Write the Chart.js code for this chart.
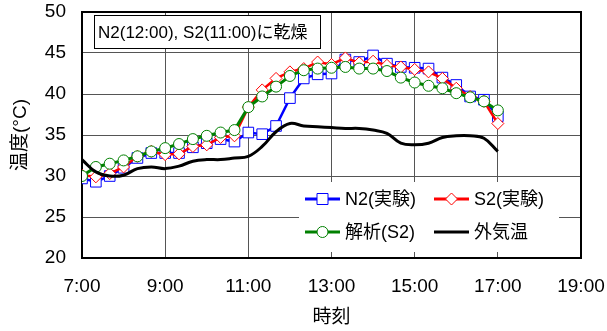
<!DOCTYPE html>
<html>
<head>
<meta charset="utf-8">
<script src="https://cdn.jsdelivr.net/npm/chart.js@4"></script>
<style>
  body { margin: 0; background: #fff; }
  #wrap { width: 607px; height: 331px; }
</style>
</head>
<body>
<div id="wrap"><canvas id="myChart"></canvas></div>
<script>
const times = ['7:00', '7:20', '7:40', '8:00', '8:20', '8:40', '9:00', '9:20', '9:40', '10:00',
  '10:20', '10:40', '11:00', '11:20', '11:40', '12:00', '12:20', '12:40', '13:00', '13:20',
  '13:40', '14:00', '14:20', '14:40', '15:00', '15:20', '15:40', '16:00', '16:20', '16:40', '17:00'];

const n2Values = [29.7, 29.3, 30.0, 31.0, 32.2, 32.8, 32.8, 32.8, 33.5, 34.0,
  34.5, 34.2, 35.3, 35.1, 36.1, 39.5, 41.9, 42.4, 42.5, 44.2,
  43.9, 44.7, 43.7, 43.3, 43.2, 43.1, 42.0, 41.1, 39.7, 39.3, 37.3];

const s2Values = [30.1, 29.9, 30.3, 31.1, 32.4, 33.0, 32.6, 32.7, 33.6, 33.8,
  34.7, 34.9, 38.4, 40.5, 41.9, 42.7, 43.1, 43.9, 43.6, 44.4,
  43.8, 44.0, 43.5, 43.3, 43.0, 42.7, 41.9, 40.7, 39.7, 39.1, 36.4];

const simValues = [30.0, 31.1, 31.5, 31.9, 32.4, 33.0, 33.4, 33.9, 34.5, 34.9,
  35.3, 35.6, 38.4, 39.7, 40.9, 42.2, 42.9, 43.1, 43.2, 43.3,
  43.1, 43.1, 42.8, 42.0, 41.4, 41.0, 40.7, 40.1, 39.6, 39.1, 38.0];

const outdoorValues = [32.0, 30.5, 30.0, 30.1, 30.9, 31.1, 30.9, 31.2, 31.8, 32.0,
  32.0, 32.2, 32.4, 33.6, 35.4, 36.4, 36.1, 36.0, 35.9, 35.8,
  35.8, 35.6, 35.2, 34.0, 33.8, 34.0, 34.7, 34.9, 34.9, 34.6, 33.0];

const seriesNames = ['N2(実験)', 'S2(実験)', '解析(S2)', '外気温'];
const hourTicks = ['7:00', '9:00', '11:00', '13:00', '15:00', '17:00', '19:00'];
const tempTicks = [20, 25, 30, 35, 40, 45, 50];
const noteText = 'N2(12:00), S2(11:00)に乾燥';

const FONT = "'Liberation Sans', 'Noto Sans CJK JP', sans-serif";

function toHours(t) {
  const [h, m] = t.split(':').map(Number);
  return h + m / 60;
}

function points(values) {
  return values.map((v, i) => ({ x: toHours(times[i]), y: v }));
}

function drawMarker(ctx, style, x, y, color) {
  ctx.beginPath();
  if (style === 'rect') {
    ctx.rect(x - 5.5, y - 5.5, 11, 11);
  } else if (style === 'rectRot') {
    ctx.moveTo(x, y - 6);
    ctx.lineTo(x + 6, y);
    ctx.lineTo(x, y + 6);
    ctx.lineTo(x - 6, y);
    ctx.closePath();
  } else {
    ctx.arc(x, y, 5.5, 0, Math.PI * 2);
  }
  ctx.fillStyle = '#fff';
  ctx.fill();
  ctx.lineWidth = 1;
  ctx.strokeStyle = color;
  ctx.stroke();
}

// plot frame
const framePlugin = {
  id: 'frame',
  beforeDatasetsDraw(chart) {
    const { ctx, chartArea: a } = chart;
    ctx.save();
    ctx.strokeStyle = '#000';
    ctx.lineWidth = 2;
    ctx.strokeRect(a.left, a.top, a.right - a.left, a.bottom - a.top);
    ctx.restore();
  }
};

// note box and legend inside the plot
const overlayPlugin = {
  id: 'overlay',
  afterDatasetsDraw(chart) {
    const ctx = chart.ctx;
    ctx.save();

    ctx.fillStyle = '#fff';
    ctx.fillRect(94.5, 15.5, 226, 33);
    ctx.strokeStyle = '#000';
    ctx.lineWidth = 1;
    ctx.strokeRect(94.5, 15.5, 226, 33);
    ctx.fillStyle = '#000';
    ctx.font = '17px ' + FONT;
    ctx.textBaseline = 'middle';
    ctx.textAlign = 'left';
    ctx.fillText(noteText, 98, 33);

    ctx.fillStyle = '#fff';
    ctx.fillRect(299, 182, 260, 70);

    const slots = [
      { x: 305, y: 199 }, { x: 434, y: 199 },
      { x: 305, y: 232 }, { x: 434, y: 232 }
    ];
    chart.data.datasets.forEach((ds, i) => {
      const s = slots[i];
      ctx.strokeStyle = ds.borderColor;
      ctx.lineWidth = 3;
      ctx.beginPath();
      ctx.moveTo(s.x, s.y);
      ctx.lineTo(s.x + 35, s.y);
      ctx.stroke();
      if (ds.pointRadius > 0) {
        drawMarker(ctx, ds.pointStyle, s.x + 17.5, s.y, ds.borderColor);
      }
      ctx.fillStyle = '#000';
      ctx.font = '18px ' + FONT;
      ctx.fillText(ds.label, s.x + 40, s.y + 1);
    });
    ctx.restore();
  }
};

new Chart('myChart', {
  type: 'line',
  data: {
    datasets: [
      {
        label: seriesNames[0],
        data: points(n2Values),
        borderColor: '#0000ff',
        borderWidth: 2.5,
        pointStyle: 'rect',
        pointRadius: 7.5,
        pointBorderWidth: 1,
        pointBackgroundColor: '#fff',
        order: 3
      },
      {
        label: seriesNames[1],
        data: points(s2Values),
        borderColor: '#ff0000',
        borderWidth: 2.5,
        pointStyle: 'rectRot',
        pointRadius: 6,
        pointBorderWidth: 1,
        pointBackgroundColor: '#fff',
        order: 2
      },
      {
        label: seriesNames[2],
        data: points(simValues),
        borderColor: '#008000',
        borderWidth: 3,
        pointStyle: 'circle',
        pointRadius: 5.5,
        pointBorderWidth: 1,
        pointBackgroundColor: '#fff',
        order: 1
      },
      {
        label: seriesNames[3],
        data: points(outdoorValues),
        borderColor: '#000000',
        borderWidth: 3,
        pointRadius: 0,
        tension: 0.4,
        order: 0
      }
    ]
  },
  options: {
    responsive: true,
    maintainAspectRatio: false,
    animation: false,
    layout: { padding: { top: 12, right: 26, left: 0, bottom: 0 } },
    plugins: {
      legend: { display: false },
      tooltip: { enabled: false }
    },
    scales: {
      x: {
        type: 'linear',
        min: toHours(hourTicks[0]),
        max: toHours(hourTicks[hourTicks.length - 1]),
        afterBuildTicks: (scale) => {
          scale.ticks = hourTicks.map(t => ({ value: toHours(t) }));
        },
        afterFit: (scale) => {
          scale.height = 73;
          scale.paddingLeft = 0;
          scale.paddingRight = 0;
        },
        ticks: {
          color: '#000',
          padding: 17,
          maxRotation: 0,
          font: { family: FONT, size: 19 },
          callback: (v) => hourTicks.find(t => toHours(t) === v) || ''
        },
        grid: { color: '#555', lineWidth: 1, drawTicks: false },
        border: { display: false },
        title: {
          display: true,
          text: '時刻',
          color: '#000',
          font: { family: FONT, size: 19 },
          padding: { top: 0, bottom: 2 }
        }
      },
      y: {
        min: tempTicks[0],
        max: tempTicks[tempTicks.length - 1],
        afterBuildTicks: (scale) => {
          scale.ticks = tempTicks.map(v => ({ value: v }));
        },
        afterFit: (scale) => {
          scale.width = 82;
          scale.paddingTop = 0;
          scale.paddingBottom = 0;
        },
        ticks: {
          color: '#000',
          padding: 16,
          font: { family: FONT, size: 19 }
        },
        grid: { color: '#555', lineWidth: 1, drawTicks: false },
        border: { display: false },
        title: {
          display: true,
          text: '温度(°C)',
          color: '#000',
          font: { family: FONT, size: 19 },
          padding: { top: 9, bottom: 0 }
        }
      }
    }
  },
  plugins: [framePlugin, overlayPlugin]
});
</script>
</body>
</html>
